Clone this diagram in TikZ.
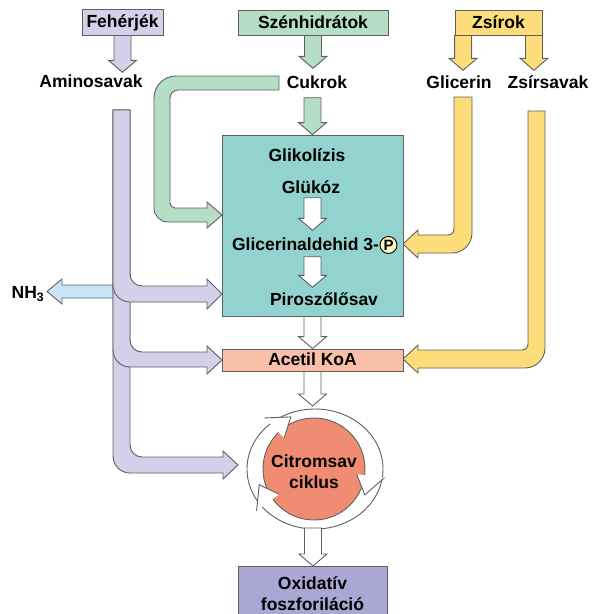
\documentclass[tikz,border=0pt]{standalone}
\usepackage{fontspec}
\setmainfont{Liberation Sans}
\usetikzlibrary{calc}

\definecolor{lavender}{RGB}{211,208,234}
\definecolor{mint}{RGB}{181,222,197}
\definecolor{butter}{RGB}{252,221,122}
\definecolor{tealbox}{RGB}{146,210,207}
\definecolor{peach}{RGB}{248,192,168}
\definecolor{coral}{RGB}{239,140,114}
\definecolor{violetbox}{RGB}{171,167,212}
\definecolor{sky}{RGB}{200,230,247}
\definecolor{paleyellow}{RGB}{255,245,190}
\definecolor{edge}{RGB}{95,95,95}

% block arrow pointing down, x taken from the start
\newcommand{\blockdown}[3][white]{%
  \filldraw[draw=edge,line width=0.9pt,fill=#1]
    let \p1=(#2), \p2=(#3) in
    (\x1-8.5pt,\y1) -- (\x1+8.5pt,\y1) -- (\x1+8.5pt,\y2+12pt)
    -- (\x1+14pt,\y2+12pt) -- (\x1,\y2) -- (\x1-14pt,\y2+12pt)
    -- (\x1-8.5pt,\y2+12pt) -- cycle;}

\begin{document}
\begin{tikzpicture}[x=1pt,y=-1pt,
    every node/.style={font=\bfseries\fontsize{17.5}{21}\selectfont},
    lab/.style={inner sep=2pt,text height=13pt,text depth=2pt},
    box/.style={draw=edge,line width=0.9pt,fill=#1},
    tube/.style={draw=edge,line width=0.9pt,fill=#1},
    ringhead/.style={draw=edge,line width=0.9pt,fill=white}]
  \useasboundingbox (0,0) rectangle (594,614);

  %sources
  \node[box=lavender,lab,minimum width=81pt,minimum height=26pt] (fehe) at (122.5,22) {Fehérjék};
  \node[box=mint,lab,minimum width=150pt,minimum height=25pt] (szen) at (313,22.5) {Szénhidrátok};
  \node[box=butter,lab,minimum width=87pt,minimum height=25pt] (zsir) at (498.5,22.5) {Zsírok};

  \node[lab] (amino) at (91,82) {Aminosavak};
  \node[lab] (cukrok) at (317,83) {Cukrok};
  \node[lab] (glic) at (459,83) {Glicerin};
  \node[lab] (zsav) at (548,83) {Zsírsavak};

  \blockdown[lavender]{fehe.south}{amino.north}
  \blockdown[mint]{szen.south}{$(cukrok.north)+(0,-5)$}
  \blockdown[butter]{$(zsir.south west)+(8.5,0)$}{$(glic.north)+(0,-3)$}
  \blockdown[butter]{$(zsir.south east)+(-8.5,0)$}{$(zsav.north)+(0,-3)$}

  %amino acids
  \filldraw[tube=sky]
    (120,285) -- (62,285) -- (62,279) -- (47,291.5)
    -- (62,304) -- (62,298) -- (120,298) -- cycle;
  \node[lab] (nh) at (28,293) {NH\textsubscript{3}};
  \filldraw[tube=lavender]
    (113,110) [rounded corners=17pt] -- (113,473) [sharp corners] -- (223,473)
    -- (223,479) -- (238,465) -- (223,451) -- (223,457) [rounded corners=12pt]
    -- (130,457) [sharp corners] -- (130,110) -- cycle;
  \filldraw[tube=lavender]
    (113,110) [rounded corners=17pt] -- (113,367) [sharp corners] -- (207,367)
    -- (207,374) -- (222,360) -- (207,346) -- (207,352) [rounded corners=12pt]
    -- (130,352) [sharp corners] -- (130,110) -- cycle;
  \filldraw[tube=lavender]
    (113,110) [rounded corners=17pt] -- (113,302) [sharp corners] -- (207,302)
    -- (207,309) -- (222,294) -- (207,279) -- (207,286) [rounded corners=12pt]
    -- (130,286) [sharp corners] -- (130,110) -- cycle;

  %sugars
  \filldraw[tube=mint]
    (279,76) [rounded corners=22pt] -- (154,76) [rounded corners=14pt] -- (154,222)
    [sharp corners] -- (207,222) -- (207,228) -- (222,215) -- (207,202)
    -- (207,208) [rounded corners=5pt] -- (170,208) [rounded corners=8pt]
    -- (170,90) [sharp corners] -- (279,90) -- cycle;

  %fats
  \filldraw[tube=butter]
    (454,97) -- (472,97) [rounded corners=20pt] -- (472,253) [sharp corners]
    -- (418,253) -- (418,258) -- (403,244) -- (418,230) -- (418,235)
    [rounded corners=6pt] -- (454,235) [sharp corners] -- cycle;
  \filldraw[tube=butter]
    (528,111) -- (545,111) [rounded corners=20pt] -- (545,368) [sharp corners]
    -- (418,368) -- (418,373) -- (403,359) -- (418,345) -- (418,350)
    [rounded corners=6pt] -- (528,350) [sharp corners] -- cycle;

  %glycolysis
  \node[box=tealbox,minimum width=181pt,minimum height=181pt] (glik) at (312.5,225.5) {};
  \node[lab] (glikt) at (307,156) {Glikolízis};
  \node[lab] (gluk) at (311,188) {Glükóz};
  \node[lab] (gap) at (305.5,245) {Glicerinaldehid 3-};
  \node[circle,draw=black,line width=0.9pt,fill=paleyellow,inner sep=0pt,minimum size=17pt,
    font=\bfseries\fontsize{15}{17}\selectfont] (pcirc) at (388.5,245) {P};
  \node[lab] (piro) at (324,300) {Piroszőlősav};
  \blockdown[mint]{$(glik |- cukrok.south)+(0,5)$}{glik.north}
  \blockdown{glik |- gluk.south}{$(gap.north)+(0,-5)$}
  \blockdown{$(glik |- gap.south)+(0,2)$}{$(piro.north)+(0,-3)$}

  \node[box=peach,lab,minimum width=181pt,minimum height=22pt] (acetil) at (312.5,360) {Acetil KoA};
  \blockdown{glik.south}{acetil.north}

  %citric acid cycle
  \filldraw[fill=white,draw=edge,line width=0.9pt] (315,469) ellipse [x radius=68, y radius=60];
  \node[circle,minimum size=102pt,fill=coral,draw=edge,line width=0.9pt] (cyc) at (314,469) {};
  \foreach \a in {-134,7,144}
    \filldraw[ringhead] ([shift={(\a:43)}]cyc.center) -- ([shift={(\a+20:57)}]cyc.center)
      -- ([shift={(\a:71)}]cyc.center);
  \node[align=center] (cyctext) at (314,472) {Citromsav\\ciklus};
  \coordinate (ringtop) at (314,406);
  \coordinate (ringbot) at (313,528);
  \blockdown{acetil.south}{ringtop}

  \node[box=violetbox,anchor=north,align=center,minimum width=149pt,minimum height=54pt] (oxid)
    at (312.5,566) {Oxidatív\\foszforiláció};
  \blockdown{ringbot}{oxid.north}
\end{tikzpicture}
\end{document}
